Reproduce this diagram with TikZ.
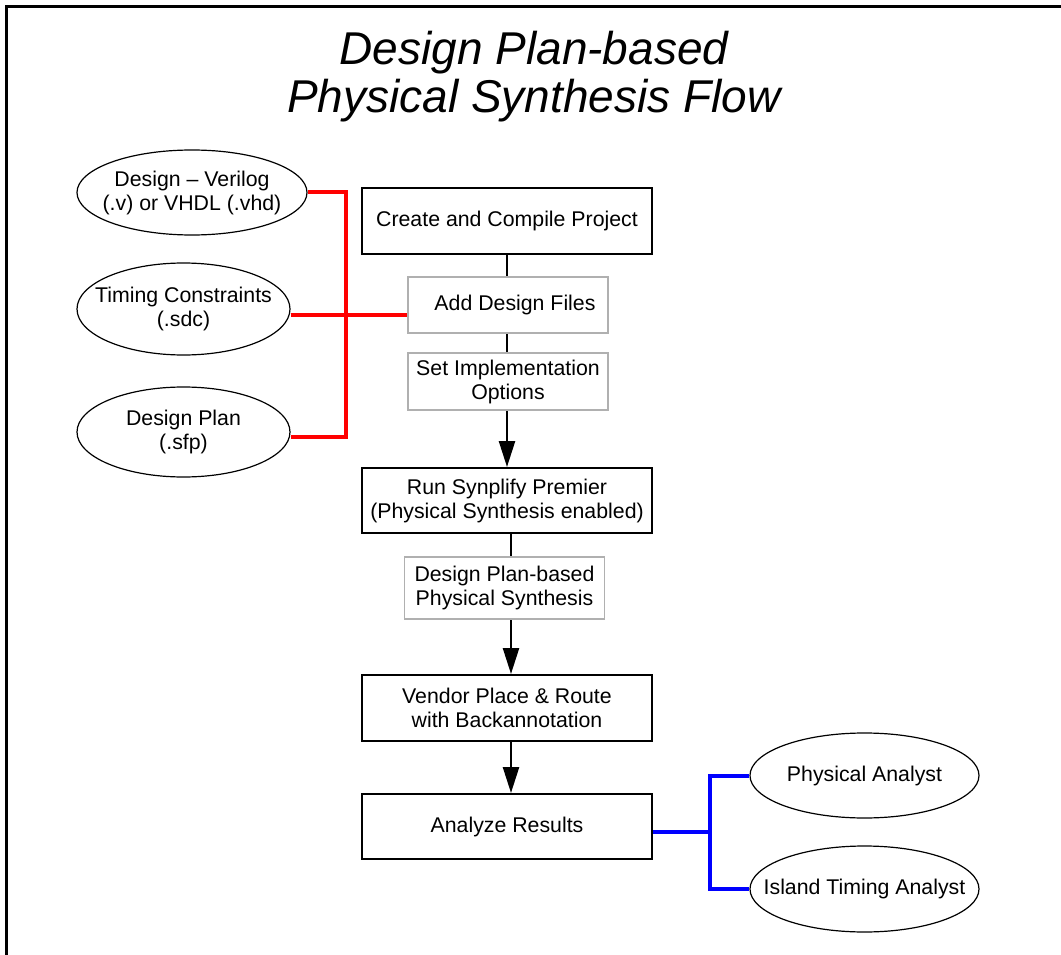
\documentclass[tikz,border=0pt]{standalone}
\usepackage{fontspec}
\setmainfont{Liberation Sans}
\usetikzlibrary{shapes.geometric,arrows.meta}

\tikzset{
  body/.style={font=\fontsize{21.3}{24}\selectfont, align=center, inner sep=0pt},
  mainbox/.style={draw=black, line width=2pt, fill=white, minimum width=290pt, body},
  subbox/.style={draw=black!31, line width=1.5pt, fill=white, minimum width=200pt, body},
  srcell/.style={draw=black, line width=1.2pt, ellipse, inner sep=0pt},
  flow/.style={line width=2.5pt, -{Triangle[width=16pt,length=26pt]}},
  plain/.style={line width=2.5pt},
  redwire/.style={draw=red, line width=4pt},
  bluewire/.style={draw=blue, line width=4pt},
}

\begin{document}
\begin{tikzpicture}[x=1pt,y=-1pt]
\useasboundingbox (0,0) rectangle (1061,955);

% frame
\draw[line width=3pt] (6.5,955) -- (6.5,6.5) -- (1061,6.5);

% title
\node[anchor=base, inner sep=0pt, font=\fontsize{46}{48}\selectfont\itshape] (t1) at (534,65) {Design Plan-based};
\node[anchor=base, inner sep=0pt, font=\fontsize{46}{48}\selectfont\itshape] (t2) at (534,113) {Physical Synthesis Flow};

% main flow boxes
\node[mainbox, minimum height=66pt] (create) at (507,221) {Create and Compile Project};
\node[mainbox, minimum height=65pt] (run) at (507,500.5) {Run Synplify Premier\\(Physical Synthesis enabled)};
\node[mainbox, minimum height=66pt] (vendor) at (507,708) {Vendor Place \& Route\\with Backannotation};
\node[mainbox, minimum height=65pt] (analyze) at (507,826.5) {Analyze Results};

% flow connectors (drawn before the sub-steps so they pass behind them)
\draw[flow] (create.south) -- (run.north);
\draw[flow] ([xshift=4pt]run.south) -- ([xshift=4pt]vendor.north);
\draw[flow] ([xshift=4pt]vendor.south) -- ([xshift=4pt]analyze.north);

% sub-steps
\node[subbox, minimum height=56pt] (add) at (508,305) {\hspace*{14pt}Add Design Files};
\node[subbox, minimum height=57pt] (impl) at (508,381.5) {Set Implementation\\Options};
\node[subbox, minimum height=62pt] (dpps) at (504.5,588) {Design Plan-based\\Physical Synthesis};

% design sources
\node[srcell, minimum width=230pt, minimum height=85pt] (e1) at (192,192.5) {};
\node[body] at (e1) {Design -- Verilog\\(.v) or VHDL (.vhd)};
\node[srcell, minimum width=213pt, minimum height=92pt] (e2) at (183.5,309) {};
\node[body] at (e2) {Timing Constraints\\(.sdc)};
\node[srcell, minimum width=213pt, minimum height=90pt] (e3) at (183.5,432) {};
\node[body] at (e3) {Design Plan\\(.sfp)};

% analysis tools
\node[srcell, minimum width=229pt, minimum height=85pt] (pa) at (864.5,775.5) {};
\node[body] at (pa) {Physical Analyst};
\node[srcell, minimum width=229pt, minimum height=86pt] (ita) at (864.5,889) {};
\node[body] at (ita) {Island Timing Analyst};

% red input bus
\coordinate (rtop) at (346,192.5);
\coordinate (rmid) at (346,315);
\coordinate (rbot) at (346,437);
\draw[redwire] (e1.east) -- (rtop) -- (rbot) -- (rbot -| e3.east);
\draw[redwire] (rmid -| e2.east) -- (rmid -| add.west);

% blue output bus
\coordinate (bj) at (710,832);
\draw[bluewire] (analyze.east |- bj) -- (bj);
\draw[bluewire] (pa.west) -| (bj) |- (ita.west);
\end{tikzpicture}
\end{document}
